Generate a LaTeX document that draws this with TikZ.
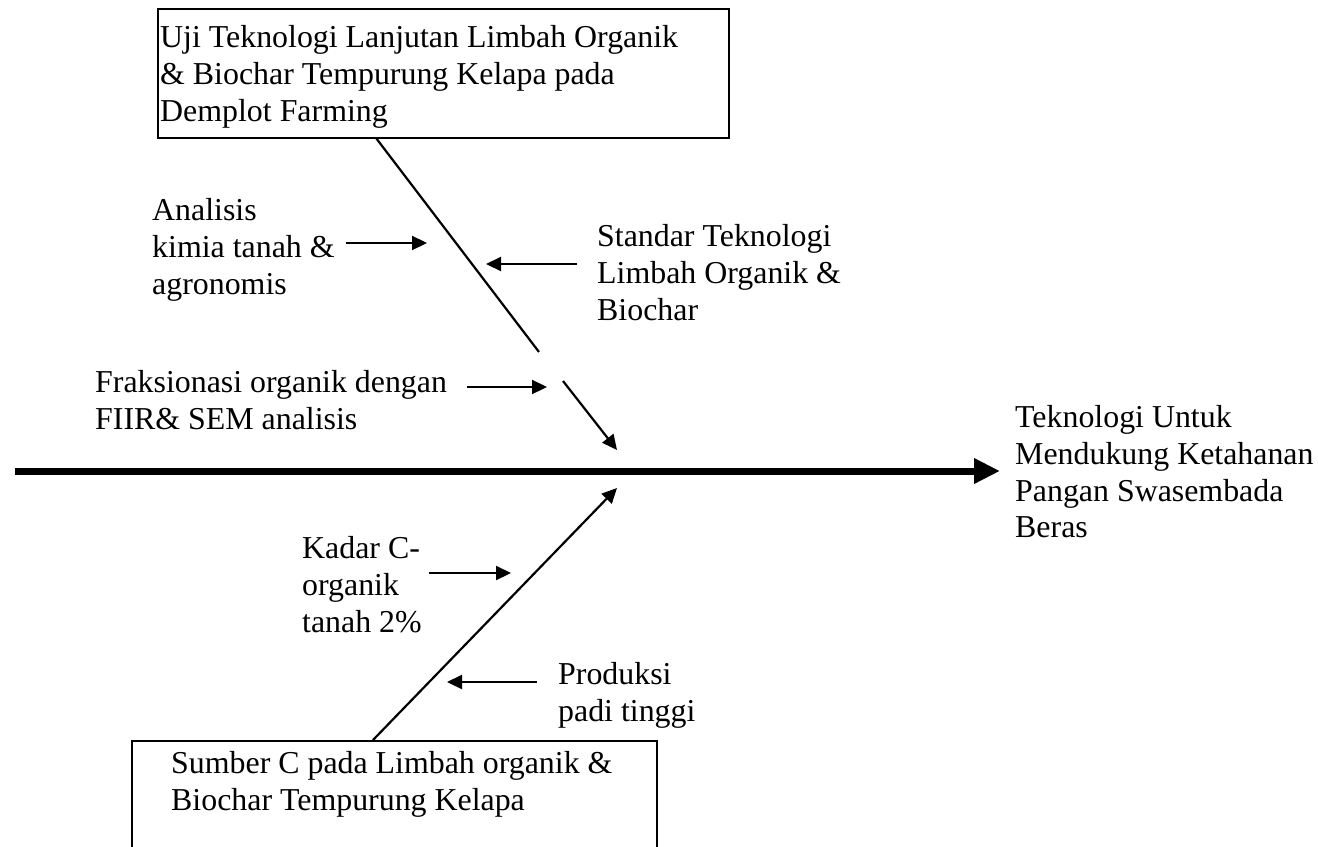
\documentclass[tikz,border=0pt]{standalone}
\usepackage{fontspec}
\setmainfont{Liberation Serif}
\usetikzlibrary{arrows.meta}
\begin{document}
\begin{tikzpicture}[x=1bp,y=-1bp,
  lbl/.style={anchor=north west, inner sep=0pt, align=left, font=\fontsize{32}{37}\selectfont},
  boxst/.style={draw, line width=2bp, anchor=north west, inner sep=0pt},
  bone/.style={line width=2.2bp},
  arr/.style={line width=2.2bp, -{Triangle[length=15bp,width=14bp]}},
  spine/.style={line width=7bp, -{Triangle[length=26bp,width=24bp]}}]
\useasboundingbox (0,0) rectangle (1318,846);
% boxes
\node[boxst, minimum width=571bp, minimum height=129bp] (topbox) at (157,8) {};
\node[boxst, minimum width=525bp, minimum height=160bp] (botbox) at (131,740) {};
% box texts
\node[lbl] (ttop) at (160,25) {Uji Teknologi Lanjutan Limbah Organik\\ \& Biochar Tempurung Kelapa pada\\ Demplot Farming};
\node[lbl] (tbot) at (171,751) {Sumber C pada Limbah organik \&\\ Biochar Tempurung Kelapa};
% labels
\node[lbl] (tana) at (152,198) {Analisis\\ kimia tanah \&\\ agronomis};
\node[lbl] (tstd) at (597,224) {Standar Teknologi\\ Limbah Organik \&\\ Biochar};
\node[lbl] (tfrk) at (95,370) {Fraksionasi organik dengan\\ FIIR\& SEM analisis};
\node[lbl] (tgoal) at (1015,405) {Teknologi Untuk\\ Mendukung Ketahanan\\ Pangan Swasembada\\ Beras};
\node[lbl] (tkad) at (302,536) {Kadar C-\\ organik\\ tanah 2\%};
\node[lbl] (tprd) at (558,662) {Produksi\\ padi tinggi};
% coordinates
\coordinate (s1) at (376,138);
\coordinate (e1) at (539,352);
\coordinate (s2) at (563,381);
\coordinate (e2) at (617,450);
\coordinate (m0) at (15,471);
\coordinate (m1) at (1000,471);
\coordinate (b0) at (373,740);
\coordinate (b1) at (617,488);
\coordinate (a1s) at (346,243); \coordinate (a1e) at (427,243);
\coordinate (a2s) at (577,264); \coordinate (a2e) at (486,264);
\coordinate (a3s) at (467,387); \coordinate (a3e) at (547,387);
\coordinate (a4s) at (429,573); \coordinate (a4e) at (511,573);
\coordinate (a5s) at (537,682); \coordinate (a5e) at (447,682);
% bones
\draw[bone] (s1) -- (e1);
\draw[arr] (s2) -- (e2);
\draw[spine] (m0) -- (m1);
\draw[arr] (b0) -- (b1);
\draw[arr] (a1s) -- (a1e);
\draw[arr] (a2s) -- (a2e);
\draw[arr] (a3s) -- (a3e);
\draw[arr] (a4s) -- (a4e);
\draw[arr] (a5s) -- (a5e);
\end{tikzpicture}
\end{document}
